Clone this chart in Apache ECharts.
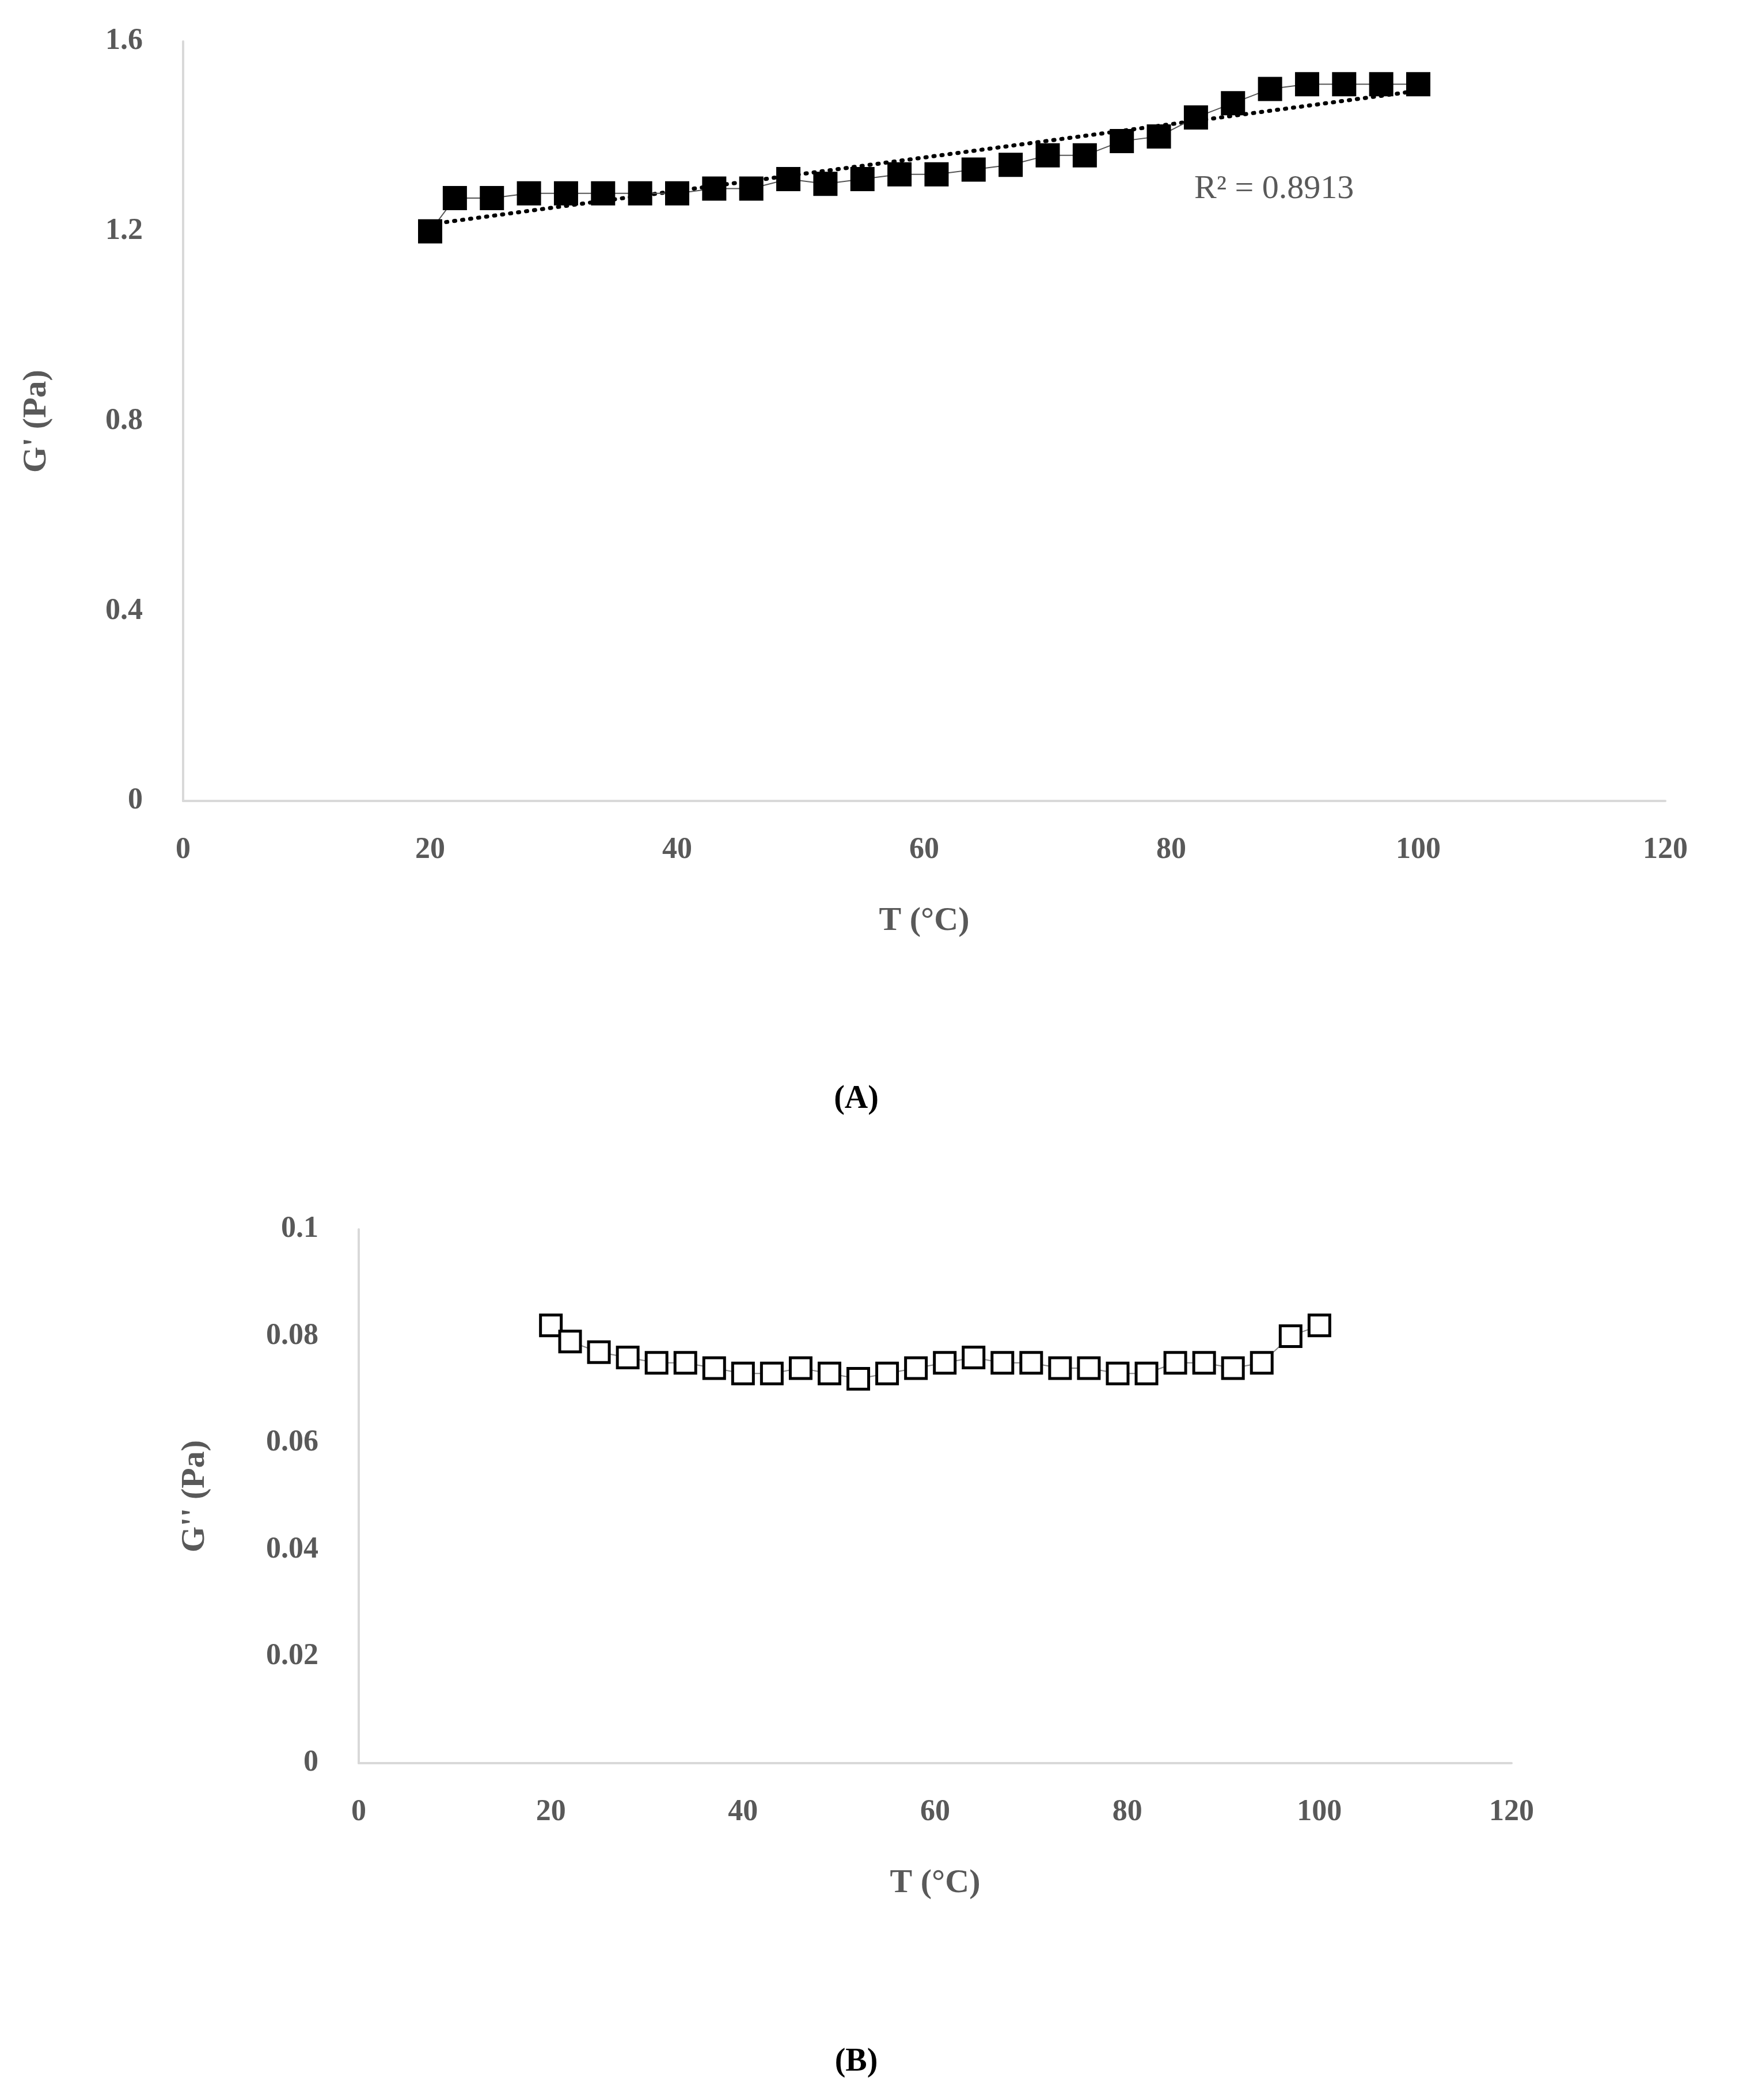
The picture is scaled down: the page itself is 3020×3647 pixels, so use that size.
<!DOCTYPE html>
<html><head><meta charset="utf-8">
<script src="https://cdn.jsdelivr.net/npm/echarts@6/dist/echarts.min.js"></script>
<style>html,body{margin:0;padding:0;background:#fff}#c{width:3020px;height:3647px}</style>
</head><body><div id="c"></div>
<script>
const temps = [20,22,25,28,31,34,37,40,43,46,49,52,55,58,61,64,67,70,73,76,79,82,85,88,91,94,97,100];
const gPrime = [1.20,1.27,1.27,1.28,1.28,1.28,1.28,1.28,1.29,1.29,1.31,1.30,1.31,1.32,1.32,1.33,1.34,1.36,1.36,1.39,1.40,1.44,1.47,1.50,1.51,1.51,1.51,1.51];
const gDouble = [0.082,0.079,0.077,0.076,0.075,0.075,0.074,0.073,0.073,0.074,0.073,0.072,0.073,0.074,0.075,0.076,0.075,0.075,0.074,0.074,0.073,0.073,0.075,0.075,0.074,0.075,0.080,0.082];
const r2Label = 'R² = 0.8913';

// linear trendline from data
const n = temps.length;
const mx = temps.reduce((a,b)=>a+b)/n, my = gPrime.reduce((a,b)=>a+b)/n;
let sxy=0,sxx=0; temps.forEach((x,i)=>{sxy+=(x-mx)*(gPrime[i]-my);sxx+=(x-mx)*(x-mx);});
const slope=sxy/sxx, icp=my-slope*mx;
const trend = [[temps[0], icp+slope*temps[0]],[temps[n-1], icp+slope*temps[n-1]]];

const font = 'Liberation Serif';
const lab = {fontFamily:font,fontWeight:'bold',fontSize:52,color:'#595959'};
const axLine = {lineStyle:{color:'#d9d9d9',width:4}};
function xAx(gi){return {type:'value',gridIndex:gi,min:0,max:120,interval:20,axisLine:axLine,axisTick:{show:false},splitLine:{show:false},
  axisLabel:Object.assign({margin:60},lab),name:'T (°C)',nameLocation:'middle',nameGap:180,nameTextStyle:Object.assign({},lab,{fontSize:58})};}
const chart = echarts.init(document.getElementById('c'));
chart.setOption({
  animation:false,
  grid:[{left:318,right:128,top:72,height:1319},{left:623,right:395,top:2135,height:927}],
  xAxis:[xAx(0),xAx(1)],
  yAxis:[
    {type:'value',gridIndex:0,min:0,max:1.6,interval:0.4,axisLine:Object.assign({show:true},axLine),axisTick:{show:false},splitLine:{show:false},
     axisLabel:Object.assign({margin:70,formatter:v=>v===0?'0':v.toFixed(1)},lab),name:"G' (Pa)",nameLocation:'middle',nameGap:225,nameTextStyle:Object.assign({},lab,{fontSize:58})},
    {type:'value',gridIndex:1,min:0,max:0.1,interval:0.02,axisLine:Object.assign({show:true},axLine),axisTick:{show:false},splitLine:{show:false},
     axisLabel:Object.assign({margin:70,formatter:v=>v===0?'0':String(+v.toFixed(2))},lab),name:"G'' (Pa)",nameLocation:'middle',nameGap:255,nameTextStyle:Object.assign({},lab,{fontSize:58})}
  ],
  series:[
    {type:'line',xAxisIndex:0,yAxisIndex:0,data:trend,symbol:'none',lineStyle:{color:'#000',width:7,type:[2,12],cap:'round'},z:1},
    {type:'line',xAxisIndex:0,yAxisIndex:0,data:temps.map((t,i)=>[t,gPrime[i]]),symbol:'rect',symbolSize:42,
     itemStyle:{color:'#000'},lineStyle:{color:'#555',width:2},z:2},
    {type:'line',xAxisIndex:1,yAxisIndex:1,data:temps.map((t,i)=>[t,gDouble[i]]),symbol:'rect',symbolSize:36,showAllSymbol:true,
     itemStyle:{color:'#fff',borderColor:'#000',borderWidth:5},lineStyle:{color:'#888',width:2},z:2}
  ],
  graphic:[
    {type:'text',left:2074,top:300,style:{text:r2Label,fontFamily:font,fontSize:58,fill:'#595959'}},
    {type:'text',x:1487,y:1910,style:{text:'(A)',fontFamily:font,fontWeight:'bold',fontSize:56,fill:'#000',align:'center',verticalAlign:'middle'}},
    {type:'text',x:1487,y:3582,style:{text:'(B)',fontFamily:font,fontWeight:'bold',fontSize:56,fill:'#000',align:'center',verticalAlign:'middle'}}
  ]
});
</script></body></html>
